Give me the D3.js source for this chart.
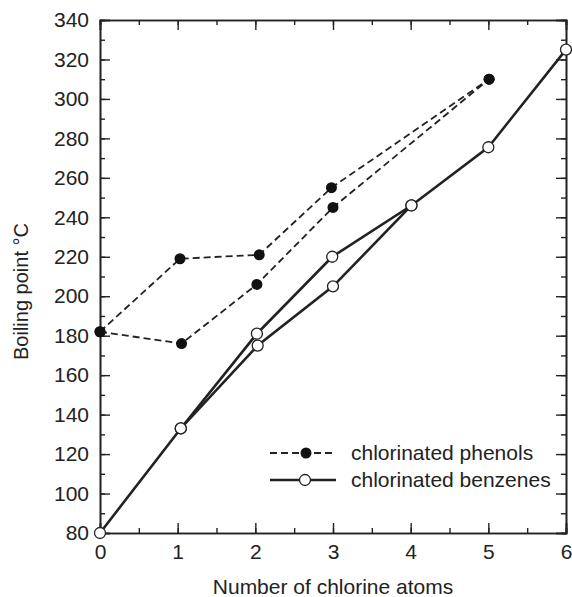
<!DOCTYPE html>
<html>
<head>
<meta charset="utf-8">
<script src="https://cdn.jsdelivr.net/npm/d3@7"></script>
<style>
  body { margin: 0; background: #fff; }
  text { font-family: "Liberation Sans", Arial, Helvetica, sans-serif; fill: #222; }
</style>
</head>
<body>
<div id="chart"></div>
<script>
// chlorinated phenols: two isomer branches that share the end points
var phenolX1 = [0, 1.03, 2.05, 2.98, 5.01];
var phenolY1 = [182, 219, 221, 255, 310];
var phenolX2 = [0, 1.05, 2.02, 3.0, 5.01];
var phenolY2 = [182, 176, 206, 245, 310];

// chlorinated benzenes
var benzX1 = [0, 1.04, 2.02, 2.99, 4.01, 5.0, 6.0];
var benzY1 = [80, 133, 181, 220, 246, 275.5, 325];
var benzX2 = [1.04, 2.03, 3.0, 4.01];
var benzY2 = [133, 175, 205, 246];

var xTicks = [0, 1, 2, 3, 4, 5, 6];
var yTicks = [80, 100, 120, 140, 160, 180, 200, 220, 240, 260, 280, 300, 320, 340];
var legendNames = ["chlorinated phenols", "chlorinated benzenes"];

var W = 572, H = 597;
var margin = {top: 20, right: 6, bottom: 64, left: 100},
    width = W - margin.left - margin.right,
    height = H - margin.top - margin.bottom;

var svg = d3.select("#chart").append("svg")
    .attr("width", W)
    .attr("height", H)
  .append("g")
    .attr("transform", "translate(" + margin.left + "," + margin.top + ")");

var x = d3.scaleLinear().domain([0, 6]).range([0, width]);
var y = d3.scaleLinear().domain([80, 340]).range([height, 0]);

var ink = "#222";
var minorX = d3.range(0, 6.01, 0.5);
var minorY = d3.range(80, 341, 10);

function styleAxis(g) {
  g.selectAll("path").attr("stroke", ink).attr("stroke-width", 1.6);
  g.selectAll("line").attr("stroke", ink).attr("stroke-width", 1.4);
  g.selectAll("text").style("font-size", "21px").attr("fill", ink)
    .style("font-family", "'Liberation Sans', Arial, sans-serif");
}

// minor ticks first (all four sides)
svg.append("g").attr("transform", "translate(0," + height + ")")
  .call(d3.axisBottom(x).tickValues(minorX).tickSize(-5).tickFormat(""))
  .call(styleAxis);
svg.append("g")
  .call(d3.axisTop(x).tickValues(minorX).tickSize(-5).tickFormat(""))
  .call(styleAxis);
svg.append("g")
  .call(d3.axisLeft(y).tickValues(minorY).tickSize(-5).tickFormat(""))
  .call(styleAxis);
svg.append("g").attr("transform", "translate(" + width + ",0)")
  .call(d3.axisRight(y).tickValues(minorY).tickSize(-5).tickFormat(""))
  .call(styleAxis);

// major ticks + labels
svg.append("g").attr("transform", "translate(0," + height + ")")
  .call(d3.axisBottom(x).tickValues(xTicks).tickSize(-10).tickPadding(11).tickFormat(d3.format("d")))
  .call(styleAxis);
svg.append("g")
  .call(d3.axisTop(x).tickValues(xTicks).tickSize(-10).tickFormat(""))
  .call(styleAxis);
svg.append("g")
  .call(d3.axisLeft(y).tickValues(yTicks).tickSize(-10).tickPadding(11).tickFormat(d3.format("d")))
  .call(styleAxis);
svg.append("g").attr("transform", "translate(" + width + ",0)")
  .call(d3.axisRight(y).tickValues(yTicks).tickSize(-10).tickFormat(""))
  .call(styleAxis);

var line = d3.line()
  .x(function(d) { return x(d[0]); })
  .y(function(d) { return y(d[1]); });

function pairs(xs, ys) { return xs.map(function(v, i) { return [v, ys[i]]; }); }

var phenolSets = [pairs(phenolX1, phenolY1), pairs(phenolX2, phenolY2)];
var benzSets = [pairs(benzX1, benzY1), pairs(benzX2, benzY2)];

phenolSets.forEach(function(s) {
  svg.append("path").datum(s)
    .attr("fill", "none")
    .attr("stroke", ink)
    .attr("stroke-width", 1.8)
    .attr("stroke-dasharray", "7,4")
    .attr("d", line);
});
benzSets.forEach(function(s) {
  svg.append("path").datum(s)
    .attr("fill", "none")
    .attr("stroke", ink)
    .attr("stroke-width", 2.6)
    .attr("d", line);
});

phenolSets.forEach(function(s) {
  svg.selectAll(null).data(s).enter().append("circle")
    .attr("cx", function(d) { return x(d[0]); })
    .attr("cy", function(d) { return y(d[1]); })
    .attr("r", 5.5)
    .attr("fill", "#111");
});
benzSets.forEach(function(s) {
  svg.selectAll(null).data(s).enter().append("circle")
    .attr("cx", function(d) { return x(d[0]); })
    .attr("cy", function(d) { return y(d[1]); })
    .attr("r", 5.5)
    .attr("fill", "#fff")
    .attr("stroke", ink)
    .attr("stroke-width", 1.3);
});

// legend
var leg = svg.append("g").attr("transform", "translate(170,433)");
leg.append("line").attr("x1", 0).attr("x2", 66).attr("y1", 0).attr("y2", 0)
  .attr("stroke", ink).attr("stroke-width", 1.8).attr("stroke-dasharray", "7,4");
leg.append("circle").attr("cx", 36).attr("cy", 0).attr("r", 5.5).attr("fill", "#111");
leg.append("line").attr("x1", 0).attr("x2", 66).attr("y1", 27).attr("y2", 27)
  .attr("stroke", ink).attr("stroke-width", 2.6);
leg.append("circle").attr("cx", 35).attr("cy", 27).attr("r", 5.5)
  .attr("fill", "#fff").attr("stroke", ink).attr("stroke-width", 1.3);
leg.selectAll("text.lg").data(legendNames).enter().append("text")
  .attr("x", 81)
  .attr("y", function(d, i) { return i * 27; })
  .attr("dy", "0.35em")
  .style("font-size", "21px")
  .text(function(d) { return d; });

// axis titles
svg.append("text")
  .attr("x", width / 2)
  .attr("y", height + 61)
  .attr("text-anchor", "middle")
  .style("font-size", "21px")
  .text("Number of chlorine atoms");

svg.append("text")
  .attr("transform", "translate(-72," + (height / 2 + 15) + ") rotate(-90)")
  .attr("text-anchor", "middle")
  .style("font-size", "20px")
  .text("Boiling point °C");
</script>
</body>
</html>
